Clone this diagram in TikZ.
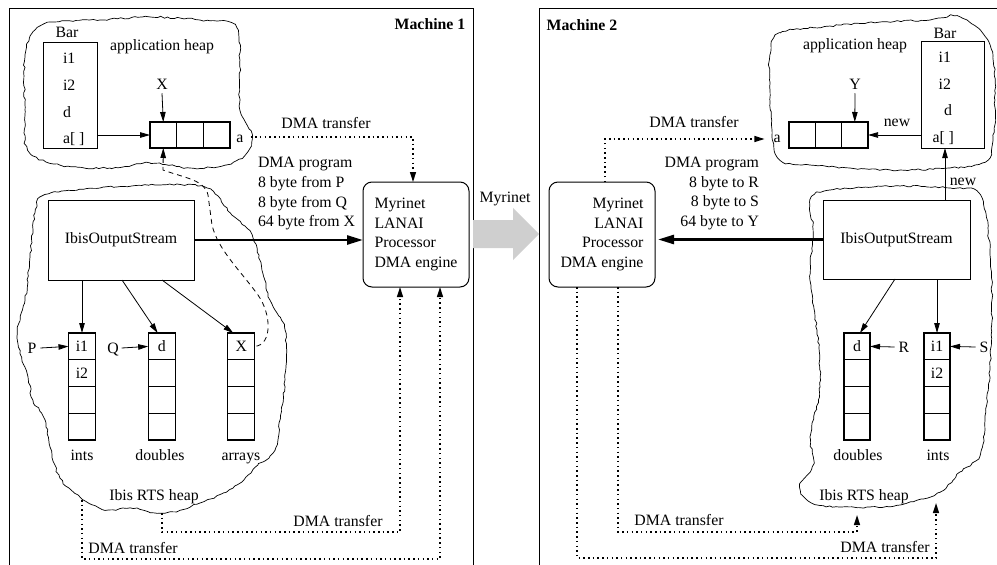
\documentclass[tikz,border=0pt]{standalone}
\usepackage{fontspec}
\setmainfont{Liberation Serif}
\usetikzlibrary{arrows.meta,decorations.pathmorphing,calc}
\newcommand\myfs{\fontsize{15.8}{19.6}\selectfont}
\begin{document}
\begin{tikzpicture}[x=1pt,y=-1pt,
  font=\myfs,
  every node/.append style={inner sep=0pt, outer sep=0pt},
  t/.style={text height=10.5pt, text depth=0pt},
  box/.style={draw, line width=1pt},
  cell/.style={draw, line width=1.3pt, minimum width=27pt, minimum height=26.75pt, text height=10.5pt, text depth=0pt},
  hcell/.style={draw, line width=1.3pt, minimum width=26.5pt, minimum height=26pt},
  myrbox/.style={draw, line width=1pt, rounded corners=9pt, minimum width=106pt, minimum height=105pt},
  arr/.style={line width=0.8pt, -{Triangle[length=10pt,width=5.5pt]}},
  bigarr/.style={line width=2.6pt, -{Triangle[length=16pt,width=9pt]}},
  dma/.style={line width=1.5pt, dash pattern=on 1.5pt off 3.2pt},
  dmaarr/.style={dma, -{Triangle[length=10pt,width=6pt]}},
  dsh/.style={line width=0.8pt, dash pattern=on 5pt off 4pt},
  cloud/.style={draw, line width=0.7pt, decorate, decoration={random steps, segment length=3.5pt, amplitude=0.9pt}}
]
\pgfmathsetseed{7}
\useasboundingbox (0,0) rectangle (997,565);
\begin{scope}
\clip (0,0) rectangle (997,565);
\draw[line width=0.8pt] (9,8) rectangle (473,600);
\draw[line width=0.8pt] (539,8) rectangle (1010,600);
\end{scope}

% ---------- clouds ----------
\draw[cloud] plot[smooth cycle, tension=0.6] coordinates {(25,55) (35,30) (55,22) (100,20) (150,17) (200,20) (235,25) (240,60) (240,110) (252,135) (245,155) (225,165) (190,168) (150,163) (110,168) (60,165) (28,150) (25,110)};
\draw[cloud] plot[smooth cycle, tension=0.6] coordinates {(45,195) (100,188) (160,185) (207,188) (232,215) (252,235) (262,270) (270,300) (285,330) (285,380) (280,420) (275,450) (258,465) (233,488) (200,503) (165,513) (130,508) (105,510) (80,497) (60,478) (50,447) (45,420) (33,400) (28,377) (17,337) (25,300) (30,257) (35,213)};
\draw[cloud] plot[smooth cycle, tension=0.6] coordinates {(770,55) (780,33) (830,26) (880,22) (930,20) (960,17) (990,45) (995,100) (993,140) (985,162) (950,168) (900,170) (850,168) (810,165) (780,160) (772,130) (770,90)};
\draw[cloud] plot[smooth cycle, tension=0.6] coordinates {(810,200) (830,190) (900,186) (950,188) (980,195) (990,250) (992,300) (990,370) (985,420) (980,455) (960,472) (940,492) (900,505) (870,507) (840,507) (812,503) (800,487) (814,463) (810,437) (820,387) (817,330) (810,280) (813,230)};

% ---------- Machine 1 ----------
\node[t, font=\myfs\bfseries] (m1) at (430,24) {Machine 1};
\node[t] (ah1) at (162,45) {application heap};
\node[box, minimum width=54pt, minimum height=106pt] (bar1) at (70,95) {};
\node[t] (bar1t) at (67,32) {Bar};
\node[t, anchor=west] (b1f1) at (63,58) {i1};
\node[t, anchor=west] (b1f2) at (63,85) {i2};
\node[t, anchor=west] (b1f3) at (63,112) {d};
\node[t, anchor=west] (b1f4) at (63,138) {a[ ]};
\node[hcell] (a1c1) at (163.3,135) {};
\node[hcell] (a1c2) at (190,135) {};
\node[hcell] (a1c3) at (216.7,135) {};
\node[t] (al1) at (240,137) {a};
\node[t] (X) at (162,84) {X};
\draw[arr] ([yshift=-4pt]X.south) -- (a1c1.north);
\draw[arr] (bar1.east |- a1c1.west) -- (a1c1.west);

\node[myrbox, align=left] (myr1) at (416,234.5) {Myrinet\\LANAI\\Processor\\DMA engine};
\node[align=left, anchor=north west] (prog1) at (258,157.5) {DMA program\\8 byte from P\\8 byte from Q\\64 byte from X};

\node[box, minimum width=146pt, minimum height=80pt] (ios1) at (121,240) {IbisOutputStream};
\draw[bigarr] (ios1.east) -- (ios1.east -| myr1.west);

\node[cell] (i1a) at (82,346.4) {i1};
\node[cell] (i1b) at (82,373.1) {i2};
\node[cell] (i1c) at (82,399.9) {};
\node[cell] (i1d) at (82,426.6) {};
\node[cell] (d1a) at (161.7,346.4) {d};
\node[cell] (d1b) at (161.7,373.1) {};
\node[cell] (d1c) at (161.7,399.9) {};
\node[cell] (d1d) at (161.7,426.6) {};
\node[cell] (x1a) at (241.3,346.4) {X};
\node[cell] (x1b) at (241.3,373.1) {};
\node[cell] (x1c) at (241.3,399.9) {};
\node[cell] (x1d) at (241.3,426.6) {};
\node[t] (ints1) at (82,455) {ints};
\node[t] (dbl1) at (160,455) {doubles};
\node[t] (arrs1) at (241,455) {arrays};
\node[t] (rts1) at (154,495) {Ibis RTS heap};
\node[t] (P) at (32,348) {P};
\node[t] (Q) at (113,348) {Q};
\draw[arr] ([xshift=4pt]P.east) -- (i1a.west);
\draw[arr] ([xshift=3pt]Q.east) -- (d1a.west);
\draw[arr] (ios1.south -| i1a) -- (i1a.north);
\draw[arr] ([xshift=1pt]ios1.south) -- ([xshift=-4pt]d1a.north);
\draw[arr] ([xshift=41pt]ios1.south) -- ([xshift=-8pt]x1a.north);

\draw[dsh, {Triangle[length=10pt,width=5.5pt]}-] (a1c1.south) -- (163,170) .. controls (185,178) and (205,180) .. (208,195) -- (212,225) .. controls (218,250) and (240,270) .. (258,295) .. controls (272,315) and (272,345) .. (x1a.east);

\node[t] (dt1) at (326,123) {DMA transfer};
\draw[dmaarr] ([xshift=7pt]al1.east) -| ([xshift=-3pt]myr1.north);
\coordinate (c1) at (162,513);
\coordinate (c2) at (82,500);
\draw[dmaarr] (c1) -- (162,532) -| ([xshift=-16pt]myr1.south);
\draw[dmaarr] (c2) -- (82,559) -| ([xshift=24pt]myr1.south);
\node[t] (dt2) at (338,521) {DMA transfer};
\node[t] (dt3) at (133,548) {DMA transfer};

% ---------- middle ----------
\fill[black!19] (473,220) -- (513,220) -- (513,208) -- (539,234) -- (513,260) -- (513,248) -- (473,248) -- cycle;
\node[t] (myrlbl) at (505,197) {Myrinet};

% ---------- Machine 2 ----------
\node[t, font=\myfs\bfseries] (m2) at (582,25) {Machine 2};
\node[t] (ah2) at (855,44) {application heap};
\node[box, minimum width=63pt, minimum height=107pt] (bar2) at (952.5,94.5) {};
\node[t] (bar2t) at (945,33) {Bar};
\node[t, anchor=east] (b2f1) at (951,57) {i1};
\node[t, anchor=east] (b2f2) at (951,84) {i2};
\node[t, anchor=east] (b2f3) at (952,110) {d};
\node[t, anchor=east] (b2f4) at (954,137) {a[ ]};
\node[hcell] (a2c1) at (802.2,135) {};
\node[hcell] (a2c2) at (828.5,135) {};
\node[hcell] (a2c3) at (854.8,135) {};
\node[t] (al2) at (777,137) {a};
\node[t] (Y) at (855,84) {Y};
\draw[arr] ([yshift=-4pt]Y.south) -- (a2c3.north);
\draw[arr] (bar2.west |- a2c3.east) -- (a2c3.east);
\node[t] (new1) at (897,121) {new};

\node[myrbox, align=right] (myr2) at (602,234.5) {Myrinet\\LANAI\\Processor\\DMA engine};
\node[align=right, anchor=north east] (prog2) at (759,157) {DMA program\\8 byte to R\\8 byte to S\\64 byte to Y};

\node[box, minimum width=147pt, minimum height=79pt] (ios2) at (896.5,239.5) {IbisOutputStream};
\draw[bigarr] (ios2.west) -- ([xshift=3pt]ios2.west -| myr2.east);
\coordinate (nx) at (945,0);
\draw[arr] (ios2.north -| nx) -- (bar2.south -| nx);
\node[t] (new2) at (963,180) {new};

\node[cell, minimum width=26pt] (rd1) at (857,346.4) {d};
\node[cell, minimum width=26pt] (rd2) at (857,373.1) {};
\node[cell, minimum width=26pt] (rd3) at (857,399.9) {};
\node[cell, minimum width=26pt] (rd4) at (857,426.6) {};
\node[cell, minimum width=26pt] (ri1) at (937,346.4) {i1};
\node[cell, minimum width=26pt] (ri2) at (937,373.1) {i2};
\node[cell, minimum width=26pt] (ri3) at (937,399.9) {};
\node[cell, minimum width=26pt] (ri4) at (937,426.6) {};
\node[t] (dbl2) at (858,455) {doubles};
\node[t] (ints2) at (938,455) {ints};
\node[t] (rts2) at (864,495) {Ibis RTS heap};
\node[t] (R) at (904,347) {R};
\node[t] (S) at (984,347) {S};
\draw[arr] ([xshift=-4pt]R.west) -- (rd1.east);
\draw[arr] ([xshift=-4pt]S.west) -- (ri1.east);
\draw[arr] ([xshift=-1.5pt]ios2.south) -- ([xshift=3pt]rd1.north);
\draw[arr] (ios2.south -| ri1) -- (ri1.north);

\node[t] (dt4) at (694,122) {DMA transfer};
\draw[dmaarr] ([xshift=3pt]myr2.north) |- ([xshift=-9pt,yshift=-2pt]al2.west);
\coordinate (c3) at (857,515);
\coordinate (c4) at (936,503);
\draw[dmaarr] ([xshift=16pt]myr2.south) |- (857,532) -- (c3);
\draw[dmaarr] ([xshift=-25pt]myr2.south) |- (936,558) -- (c4);
\node[t] (dt5) at (679,520) {DMA transfer};
\node[t] (dt6) at (885,547) {DMA transfer};
\end{tikzpicture}
\end{document}
